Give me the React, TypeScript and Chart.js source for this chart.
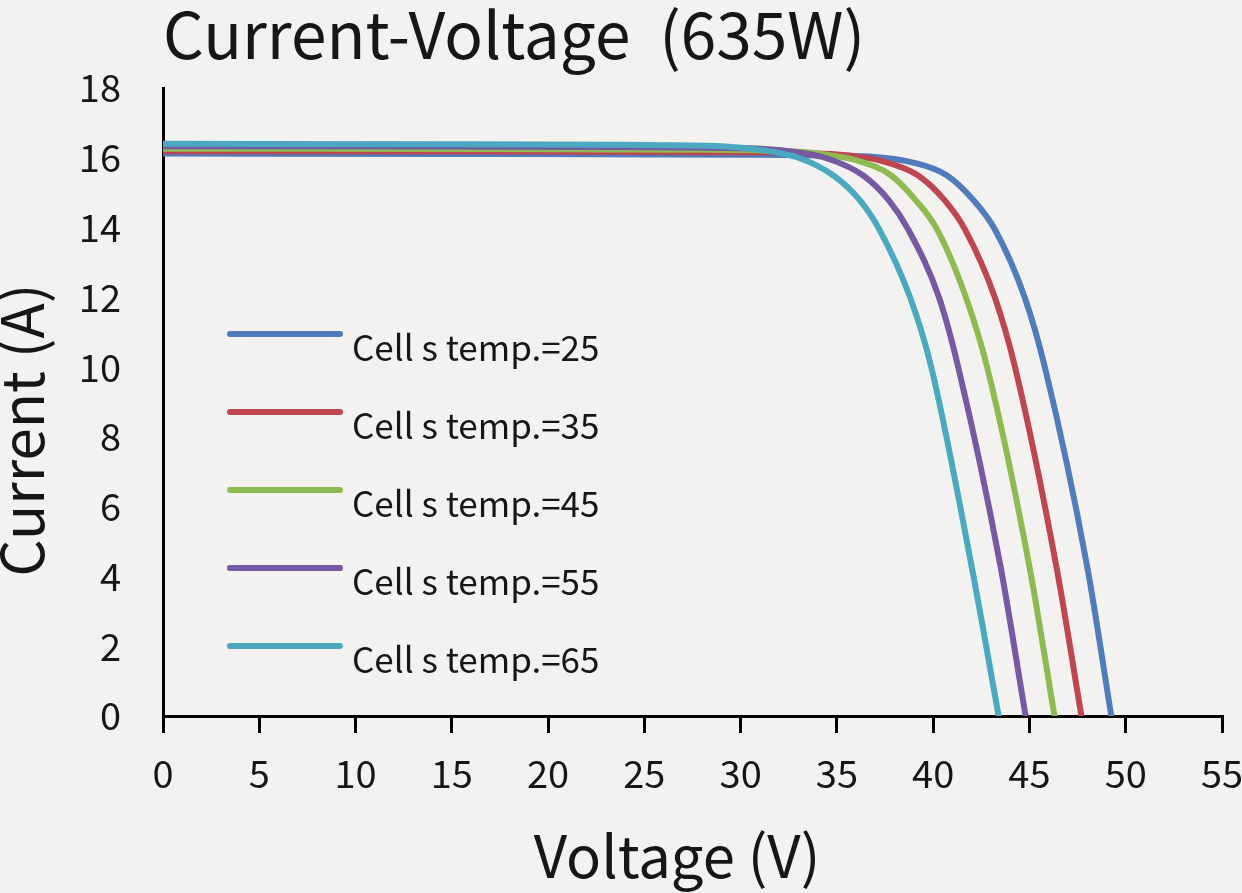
import { useEffect, useRef } from 'react';
import { Chart, registerables } from 'chart.js';

Chart.register(...registerables);

const FONT = '"Noto Sans CJK SC", "Noto Sans", sans-serif';
const TEXT = '#161616';

const seriesLabels = [
  'Cell s temp.=25',
  'Cell s temp.=35',
  'Cell s temp.=45',
  'Cell s temp.=55',
  'Cell s temp.=65',
];
const seriesColors = ['#4f7cbc', '#be4650', '#8dbb52', '#7658a3', '#4aa9c0'];

// voltage (V) / current (A)
const volt25 = [0, 15, 30, 35, 37, 38.9, 40.7, 42.1, 43.2, 44.75, 45.8, 48.0, 49.25];
const amp25 = [16.12, 16.11, 16.09, 16.06, 16.02, 15.87, 15.5, 14.78, 13.95, 12.0, 10.0, 4.28, 0];

const volt35 = [0, 15, 28.5, 33.5, 35.5, 37.4, 39.2, 40.6, 41.65, 43.2, 44.25, 46.4, 47.7];
const amp35 = [16.19, 16.18, 16.16, 16.13, 16.07, 15.9, 15.5, 14.78, 13.95, 12.0, 10.0, 4.28, 0];

const volt45 = [0, 15, 27, 32, 34, 36.0, 37.8, 39.1, 40.2, 41.7, 42.8, 45.0, 46.3];
const amp45 = [16.26, 16.25, 16.23, 16.2, 16.12, 15.93, 15.5, 14.78, 13.95, 12.0, 10.0, 4.28, 0];

const volt55 = [0, 15, 25.5, 30.5, 32.6, 34.5, 36.35, 37.7, 38.7, 40.3, 41.3, 43.5, 44.8];
const amp55 = [16.33, 16.32, 16.3, 16.27, 16.18, 15.98, 15.5, 14.78, 13.95, 12.0, 10.0, 4.28, 0];

const volt65 = [0, 15, 24, 29, 31.1, 33.0, 34.8, 36.2, 37.2, 38.8, 39.9, 42.0, 43.4];
const amp65 = [16.4, 16.39, 16.37, 16.33, 16.22, 16.0, 15.5, 14.78, 13.95, 12.0, 10.0, 4.28, 0];

const voltages = [volt25, volt35, volt45, volt55, volt65];
const currents = [amp25, amp35, amp45, amp55, amp65];

const legendPlugin = {
  id: 'insideLegend',
  afterDraw(chart: any) {
    const { ctx, chartArea } = chart;
    ctx.save();
    chart.data.datasets.forEach((ds: any, i: number) => {
      const y = 334 + i * 78;
      const x0 = chartArea.left + 67;
      ctx.strokeStyle = ds.borderColor;
      ctx.lineWidth = 6;
      ctx.lineCap = 'round';
      ctx.beginPath();
      ctx.moveTo(x0, y);
      ctx.lineTo(x0 + 110, y);
      ctx.stroke();
      ctx.fillStyle = TEXT;
      ctx.font = `35px ${FONT}`;
      ctx.textBaseline = 'alphabetic';
      ctx.textAlign = 'left';
      ctx.fillText(ds.label, chartArea.left + 189, y + 27);
    });
    ctx.restore();
  },
};

// axis titles sit a little off-centre in the original, so draw them by hand
const axisTitlePlugin = {
  id: 'axisTitles',
  afterDraw(chart: any) {
    const { ctx } = chart;
    ctx.save();
    ctx.fillStyle = TEXT;
    ctx.font = `58px ${FONT}`;
    ctx.textAlign = 'center';
    ctx.textBaseline = 'middle';
    ctx.fillText('Voltage (V)', 677, 856);
    ctx.translate(22, 430);
    ctx.rotate(-Math.PI / 2);
    ctx.fillText('Current (A)', 0, 0);
    ctx.restore();
  },
};

export default function App() {
  const canvasRef = useRef<HTMLCanvasElement>(null);
  const chartRef = useRef<Chart | null>(null);

  useEffect(() => {
    if (!canvasRef.current) return;
    const ctx = canvasRef.current.getContext('2d');
    if (!ctx) return;

    chartRef.current = new Chart(ctx, {
      type: 'line',
      data: {
        datasets: seriesLabels.map((label, i) => ({
          label,
          data: voltages[i].map((v, k) => ({ x: v, y: currents[i][k] })),
          borderColor: seriesColors[i],
          backgroundColor: seriesColors[i],
          borderWidth: 6,
          borderCapStyle: 'round',
          pointRadius: 0,
          fill: false,
          cubicInterpolationMode: 'monotone',
          order: 5 - i,
        })),
      },
      options: {
        animation: false,
        responsive: true,
        maintainAspectRatio: false,
        layout: { padding: { left: 0, right: 0, top: 0, bottom: 0 } },
        plugins: {
          legend: { display: false },
          tooltip: { enabled: false },
          title: {
            display: true,
            text: 'Current-Voltage  (635W)',
            align: 'start',
            fullSize: false,
            color: TEXT,
            font: { family: FONT, size: 64, weight: 'normal', lineHeight: 1 },
            padding: { top: 3, bottom: 21 },
          },
        },
        scales: {
          x: {
            type: 'linear',
            min: 0,
            max: 55,
            afterFit: (s: any) => {
              s.height = 177;
              s.paddingRight = 20;
            },
            ticks: {
              stepSize: 5,
              color: TEXT,
              padding: 18,
              font: { family: FONT, size: 38 },
            },
            grid: {
              drawOnChartArea: false,
              drawTicks: true,
              tickLength: 17,
              color: '#000',
              lineWidth: 3,
            },
            border: { color: '#000', width: 3 },
          },
          y: {
            min: 0,
            max: 18,
            afterFit: (s: any) => {
              s.width = 163;
            },
            ticks: {
              stepSize: 2,
              color: TEXT,
              padding: 42,
              font: { family: FONT, size: 38 },
            },
            grid: { display: false, drawTicks: false },
            border: { color: '#000', width: 3 },
          },
        },
      },
      plugins: [legendPlugin, axisTitlePlugin],
    } as any);

    return () => {
      if (chartRef.current) {
        chartRef.current.destroy();
        chartRef.current = null;
      }
    };
  }, []);

  return (
    <div
      style={{
        position: 'fixed',
        left: 0,
        top: 0,
        width: 1242,
        height: 893,
        background: '#f3f2f0',
      }}
    >
      <canvas ref={canvasRef}></canvas>
    </div>
  );
}
